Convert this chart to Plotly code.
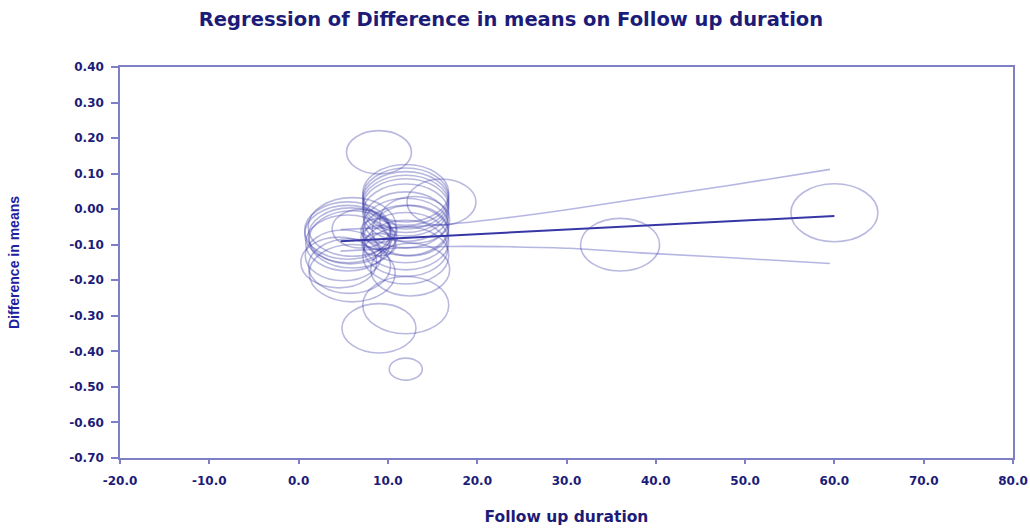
import plotly.graph_objects as go

# ---- data ----
# study follow-up duration (months), difference in means, relative weight (bubble diameter)
study_x = [9.0, 12.0, 12.0, 12.0, 12.0, 12.0, 12.0, 12.0, 12.0, 12.0, 12.0, 12.0, 12.0,
           12.5, 13.0, 16.0, 12.5, 12.0, 12.0, 9.0,
           9.0, 9.0, 9.0, 7.0,
           6.0, 5.5, 5.5, 5.8, 6.0, 5.5, 5.0, 4.5, 5.7, 6.0,
           36.0, 60.0]
study_y = [0.16, 0.045, 0.035, 0.025, 0.015, 0.005, -0.010, -0.030, -0.050, -0.070, -0.090, -0.110, -0.130,
           -0.060, -0.030, 0.02, -0.17, -0.27, -0.45, -0.335,
           -0.06, -0.08, -0.10, -0.055,
           -0.05, -0.06, -0.07, -0.075, -0.085, -0.095, -0.13, -0.15, -0.16, -0.18,
           -0.10, -0.01]
study_w = [6.5, 8.6, 8.6, 8.6, 8.6, 8.6, 8.6, 8.4, 8.6, 8.6, 8.6, 8.4, 8.6,
           7.6, 7.0, 6.9, 7.9, 8.6, 3.3, 7.4,
           3.6, 3.6, 3.4, 5.8,
           8.8, 8.6, 8.6, 8.4, 8.6, 8.4, 7.6, 7.6, 8.2, 8.6,
           7.9, 8.7]

# regression line and its confidence limits
reg_x = [4.7, 60.0]
reg_y = [-0.090, -0.019]
ci_x = [4.7, 10.0, 17.0, 24.0, 30.4, 38.3, 48.0, 59.5]
ci_upper = [-0.057, -0.052, -0.042, -0.022, 0.000, 0.030, 0.066, 0.112]
ci_lower = [-0.118, -0.111, -0.105, -0.106, -0.110, -0.123, -0.136, -0.153]

x_ticks = [-20, -10, 0, 10, 20, 30, 40, 50, 60, 70, 80]
y_ticks = [0.4, 0.3, 0.2, 0.1, 0.0, -0.1, -0.2, -0.3, -0.4, -0.5, -0.6, -0.7]

# ---- styling ----
NAVY = "#1c1c78"
AXIS = "#7f7fc6"
CIRCLE = "rgba(60,60,170,0.36)"
W, H = 1030, 529
ML, MR, MT, MB = 119.5, 17, 66.5, 71
SCALE = 10.0        # px of bubble width per unit of weight
ASPECT = 1.5        # bubbles are drawn wider than tall

fig = go.Figure()

fig.add_trace(go.Scatter(x=ci_x, y=ci_upper, mode="lines", line_shape="spline",
                         line=dict(color="rgba(110,110,200,0.5)", width=1.6),
                         hoverinfo="skip", showlegend=False))
fig.add_trace(go.Scatter(x=ci_x, y=ci_lower, mode="lines", line_shape="spline",
                         line=dict(color="rgba(110,110,200,0.5)", width=1.6),
                         hoverinfo="skip", showlegend=False))
fig.add_trace(go.Scatter(x=reg_x, y=reg_y, mode="lines",
                         line=dict(color="#3636a6", width=2),
                         hoverinfo="skip", showlegend=False))
fig.add_trace(go.Scatter(x=study_x, y=study_y, mode="markers",
                         marker=dict(size=4, color="rgba(0,0,0,0)"),
                         showlegend=False))

shapes = []
for sx, sy, sw in zip(study_x, study_y, study_w):
    rx = sw * SCALE / 2.0
    ry = rx / ASPECT
    shapes.append(dict(type="circle", xref="x", yref="y",
                       xsizemode="pixel", ysizemode="pixel",
                       xanchor=sx, yanchor=sy,
                       x0=-rx, x1=rx, y0=-ry, y1=ry,
                       line=dict(color=CIRCLE, width=1.6),
                       fillcolor="rgba(0,0,0,0)", layer="above"))

fig.update_layout(
    width=W, height=H,
    margin=dict(l=ML, r=MR, t=MT, b=MB, autoexpand=False),
    paper_bgcolor="white", plot_bgcolor="white",
    shapes=shapes,
    title=dict(text="Regression of Difference in means on Follow up duration",
               x=511 / W, xanchor="center", y=1 - 19 / H, yanchor="middle",
               font=dict(family="DejaVu Sans", size=19.5, color=NAVY, weight="bold")),
    xaxis=dict(range=[-20, 80], tickvals=x_ticks,
               ticktext=[f"{v:.1f}" for v in x_ticks],
               showgrid=False, zeroline=False, automargin=False,
               showline=True, linecolor=AXIS, linewidth=1.5, mirror=True,
               ticks="outside", ticklen=4, tickcolor=AXIS, tickwidth=1.5,
               ticklabelstandoff=7,
               tickfont=dict(family="DejaVu Sans", size=12, color=NAVY, weight="bold"),
               title=dict(text="Follow up duration", standoff=24,
                          font=dict(family="DejaVu Sans", size=15.5, color=NAVY, weight="bold"))),
    yaxis=dict(range=[-0.7, 0.4], tickvals=y_ticks,
               ticktext=[f"{v:.2f}" for v in y_ticks],
               showgrid=False, zeroline=False, automargin=False,
               showline=True, linecolor=AXIS, linewidth=1.5, mirror=True,
               ticks="outside", ticklen=7, tickcolor=AXIS, tickwidth=1.5,
               ticklabelstandoff=5,
               tickfont=dict(family="DejaVu Sans", size=12, color=NAVY, weight="bold"),
               title=dict(text="Difference in means", standoff=46,
                          font=dict(family="Liberation Sans", size=14, color="#2020a0", weight="bold"))),
)

# remove the default page margin so the figure sits at the window's top-left corner
fig.write_html("out.html", config={"displayModeBar": False},
               post_script="document.body.style.margin='0px';")
